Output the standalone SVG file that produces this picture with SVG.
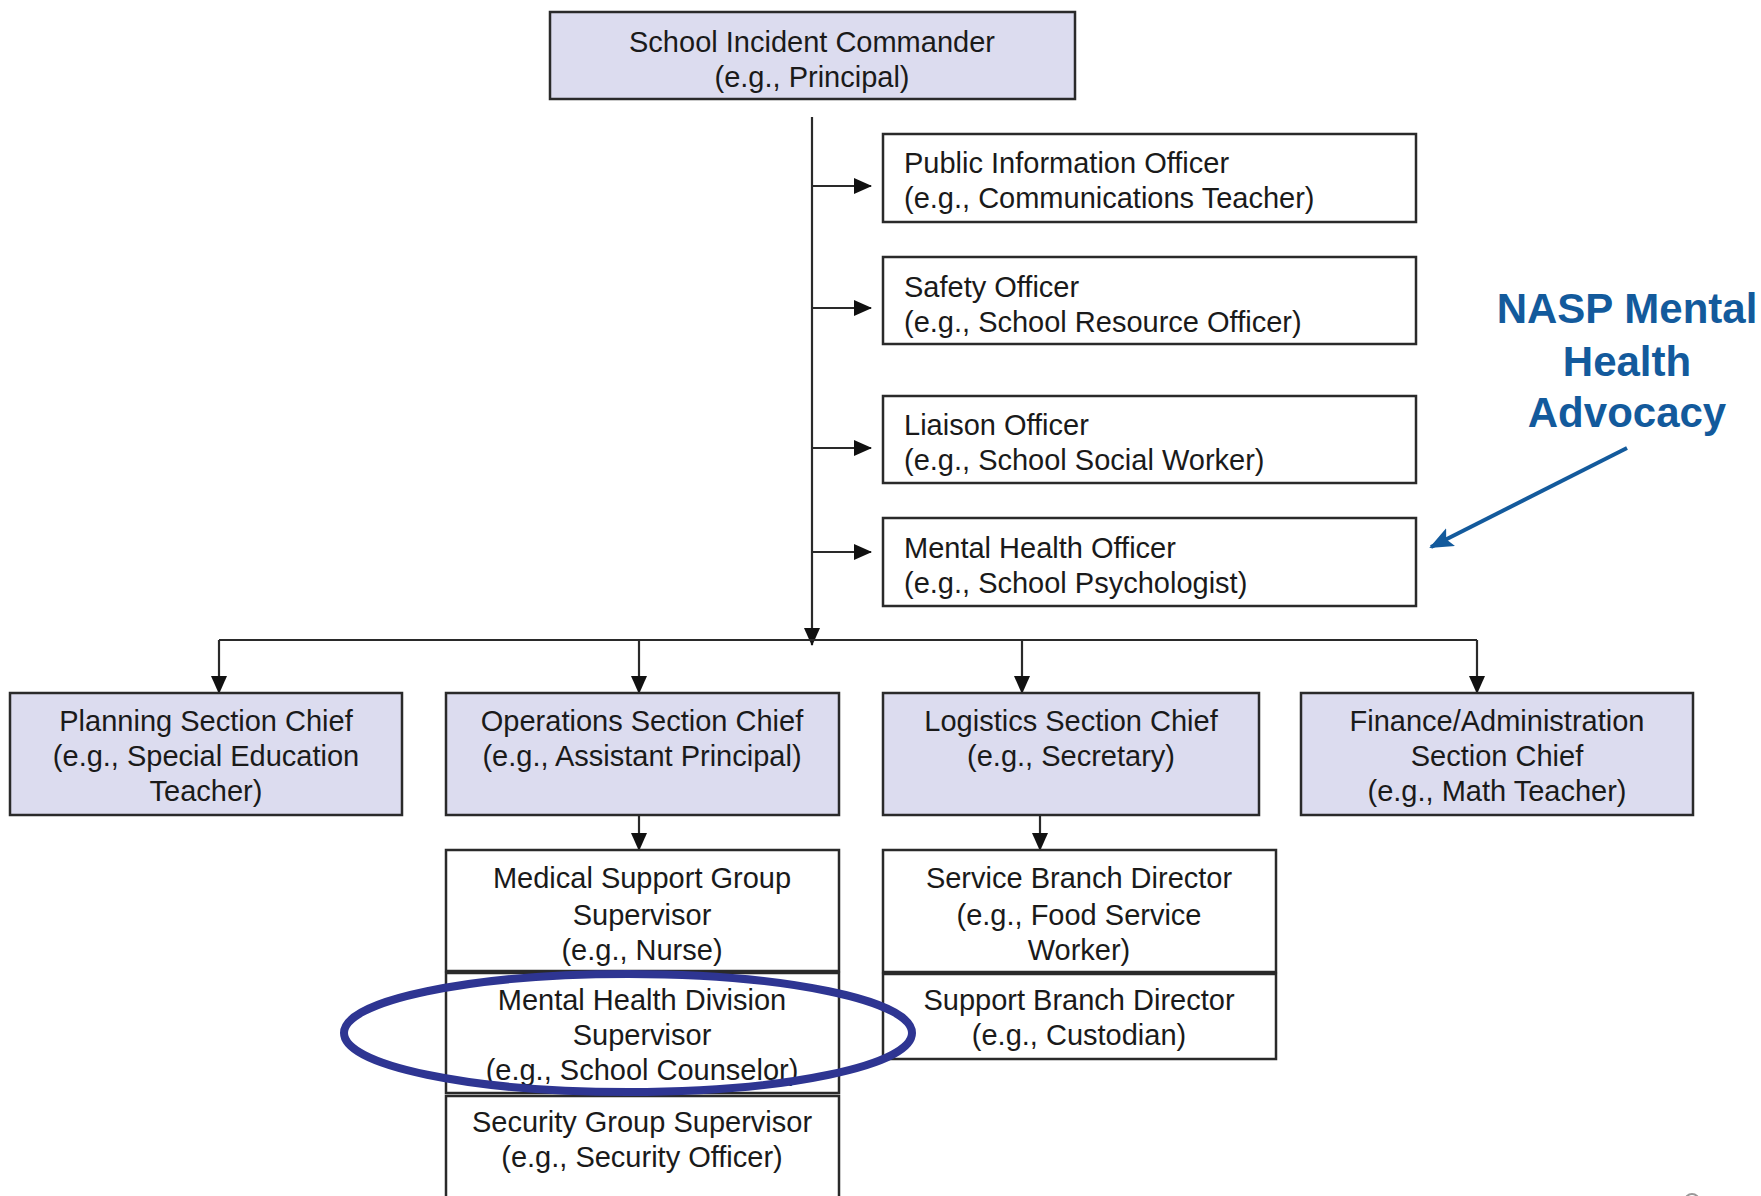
<svg xmlns="http://www.w3.org/2000/svg" width="1761" height="1196" viewBox="0 0 1761 1196">
<defs>
<style>
.box{fill:#ffffff;stroke:#2a2a2a;stroke-width:2.5}
.sec{fill:#dcdcef;stroke:#2a2a2a;stroke-width:2.5}
.t{font-family:"Liberation Sans",Arial,sans-serif;font-size:29px;fill:#1a1a1a}
.c{text-anchor:middle}
.con{fill:none;stroke:#2a2a2a;stroke-width:2.2}
.nasp{font-family:"Liberation Sans",Arial,sans-serif;font-size:42px;font-weight:bold;fill:#135a9c;text-anchor:middle}
</style>
<marker id="ah" markerUnits="userSpaceOnUse" markerWidth="18" markerHeight="16" refX="17" refY="8" orient="auto">
<path d="M0,0 L18,8 L0,16 Z" fill="#111"/>
</marker>
<marker id="bh" markerUnits="userSpaceOnUse" markerWidth="24" markerHeight="20" refX="22" refY="10" orient="auto">
<path d="M0,0 L24,10 L0,20 L5,10 Z" fill="#135a9c"/>
</marker>
</defs>
<rect width="1761" height="1196" fill="#ffffff"/>

<g id="connectors">
<path class="con" d="M812 117 V645" marker-end="url(#ah)"/>
<path class="con" d="M219 640 H1477"/>
<path class="con" d="M219 640 V693" marker-end="url(#ah)"/>
<path class="con" d="M639 640 V693" marker-end="url(#ah)"/>
<path class="con" d="M1022 640 V693" marker-end="url(#ah)"/>
<path class="con" d="M1477 640 V693" marker-end="url(#ah)"/>
<path class="con" d="M812 186 H871" marker-end="url(#ah)"/>
<path class="con" d="M812 308 H871" marker-end="url(#ah)"/>
<path class="con" d="M812 448 H871" marker-end="url(#ah)"/>
<path class="con" d="M812 552 H871" marker-end="url(#ah)"/>
<path class="con" d="M639 815 V850" marker-end="url(#ah)"/>
<path class="con" d="M1040 815 V850" marker-end="url(#ah)"/>
<path d="M1627 448 L1431 547" fill="none" stroke="#135a9c" stroke-width="4" marker-end="url(#bh)"/>
</g>

<g id="commander">
<rect class="sec" x="550" y="12" width="525" height="87"/>
<text class="t c" x="812" y="52">School Incident Commander</text>
<text class="t c" x="812" y="87">(e.g., Principal)</text>
</g>

<g id="pio">
<rect class="box" x="883" y="134" width="533" height="88"/>
<text class="t" x="904" y="173">Public Information Officer</text>
<text class="t" x="904" y="208">(e.g., Communications Teacher)</text>
</g>
<g id="safety">
<rect class="box" x="883" y="257" width="533" height="87"/>
<text class="t" x="904" y="297">Safety Officer</text>
<text class="t" x="904" y="332">(e.g., School Resource Officer)</text>
</g>
<g id="liaison">
<rect class="box" x="883" y="396" width="533" height="87"/>
<text class="t" x="904" y="435">Liaison Officer</text>
<text class="t" x="904" y="470">(e.g., School Social Worker)</text>
</g>
<g id="mho">
<rect class="box" x="883" y="518" width="533" height="88"/>
<text class="t" x="904" y="558">Mental Health Officer</text>
<text class="t" x="904" y="593">(e.g., School Psychologist)</text>
</g>

<g id="planning">
<rect class="sec" x="10" y="693" width="392" height="122"/>
<text class="t c" x="206" y="731">Planning Section Chief</text>
<text class="t c" x="206" y="766">(e.g., Special Education</text>
<text class="t c" x="206" y="801">Teacher)</text>
</g>
<g id="operations">
<rect class="sec" x="446" y="693" width="393" height="122"/>
<text class="t c" x="642" y="731">Operations Section Chief</text>
<text class="t c" x="642" y="766">(e.g., Assistant Principal)</text>
</g>
<g id="logistics">
<rect class="sec" x="883" y="693" width="376" height="122"/>
<text class="t c" x="1071" y="731">Logistics Section Chief</text>
<text class="t c" x="1071" y="766">(e.g., Secretary)</text>
</g>
<g id="finance">
<rect class="sec" x="1301" y="693" width="392" height="122"/>
<text class="t c" x="1497" y="731">Finance/Administration</text>
<text class="t c" x="1497" y="766">Section Chief</text>
<text class="t c" x="1497" y="801">(e.g., Math Teacher)</text>
</g>

<g id="medical">
<rect class="box" x="446" y="850" width="393" height="121"/>
<text class="t c" x="642" y="888">Medical Support Group</text>
<text class="t c" x="642" y="925">Supervisor</text>
<text class="t c" x="642" y="960">(e.g., Nurse)</text>
</g>
<g id="mentalhealthdiv">
<rect class="box" x="446" y="973" width="393" height="120"/>
<text class="t c" x="642" y="1010">Mental Health Division</text>
<text class="t c" x="642" y="1045">Supervisor</text>
<text class="t c" x="642" y="1080">(e.g., School Counselor)</text>
</g>
<g id="security">
<rect class="box" x="446" y="1096" width="393" height="110"/>
<text class="t c" x="642" y="1132">Security Group Supervisor</text>
<text class="t c" x="642" y="1167">(e.g., Security Officer)</text>
</g>
<g id="service">
<rect class="box" x="883" y="850" width="393" height="122"/>
<text class="t c" x="1079" y="888">Service Branch Director</text>
<text class="t c" x="1079" y="925">(e.g., Food Service</text>
<text class="t c" x="1079" y="960">Worker)</text>
</g>
<g id="support">
<rect class="box" x="883" y="974" width="393" height="85"/>
<text class="t c" x="1079" y="1010">Support Branch Director</text>
<text class="t c" x="1079" y="1045">(e.g., Custodian)</text>
</g>

<g id="highlight">
<ellipse cx="628" cy="1033" rx="284" ry="59" fill="none" stroke="#2e3592" stroke-width="8"/>
</g>

<g id="nasp-label">
<text class="nasp" x="1627" y="323">NASP Mental</text>
<text class="nasp" x="1627" y="376">Health</text>
<text class="nasp" x="1627" y="427">Advocacy</text>
</g>

<circle cx="1692" cy="1201" r="7" fill="none" stroke="#999" stroke-width="2"/>
</svg>
